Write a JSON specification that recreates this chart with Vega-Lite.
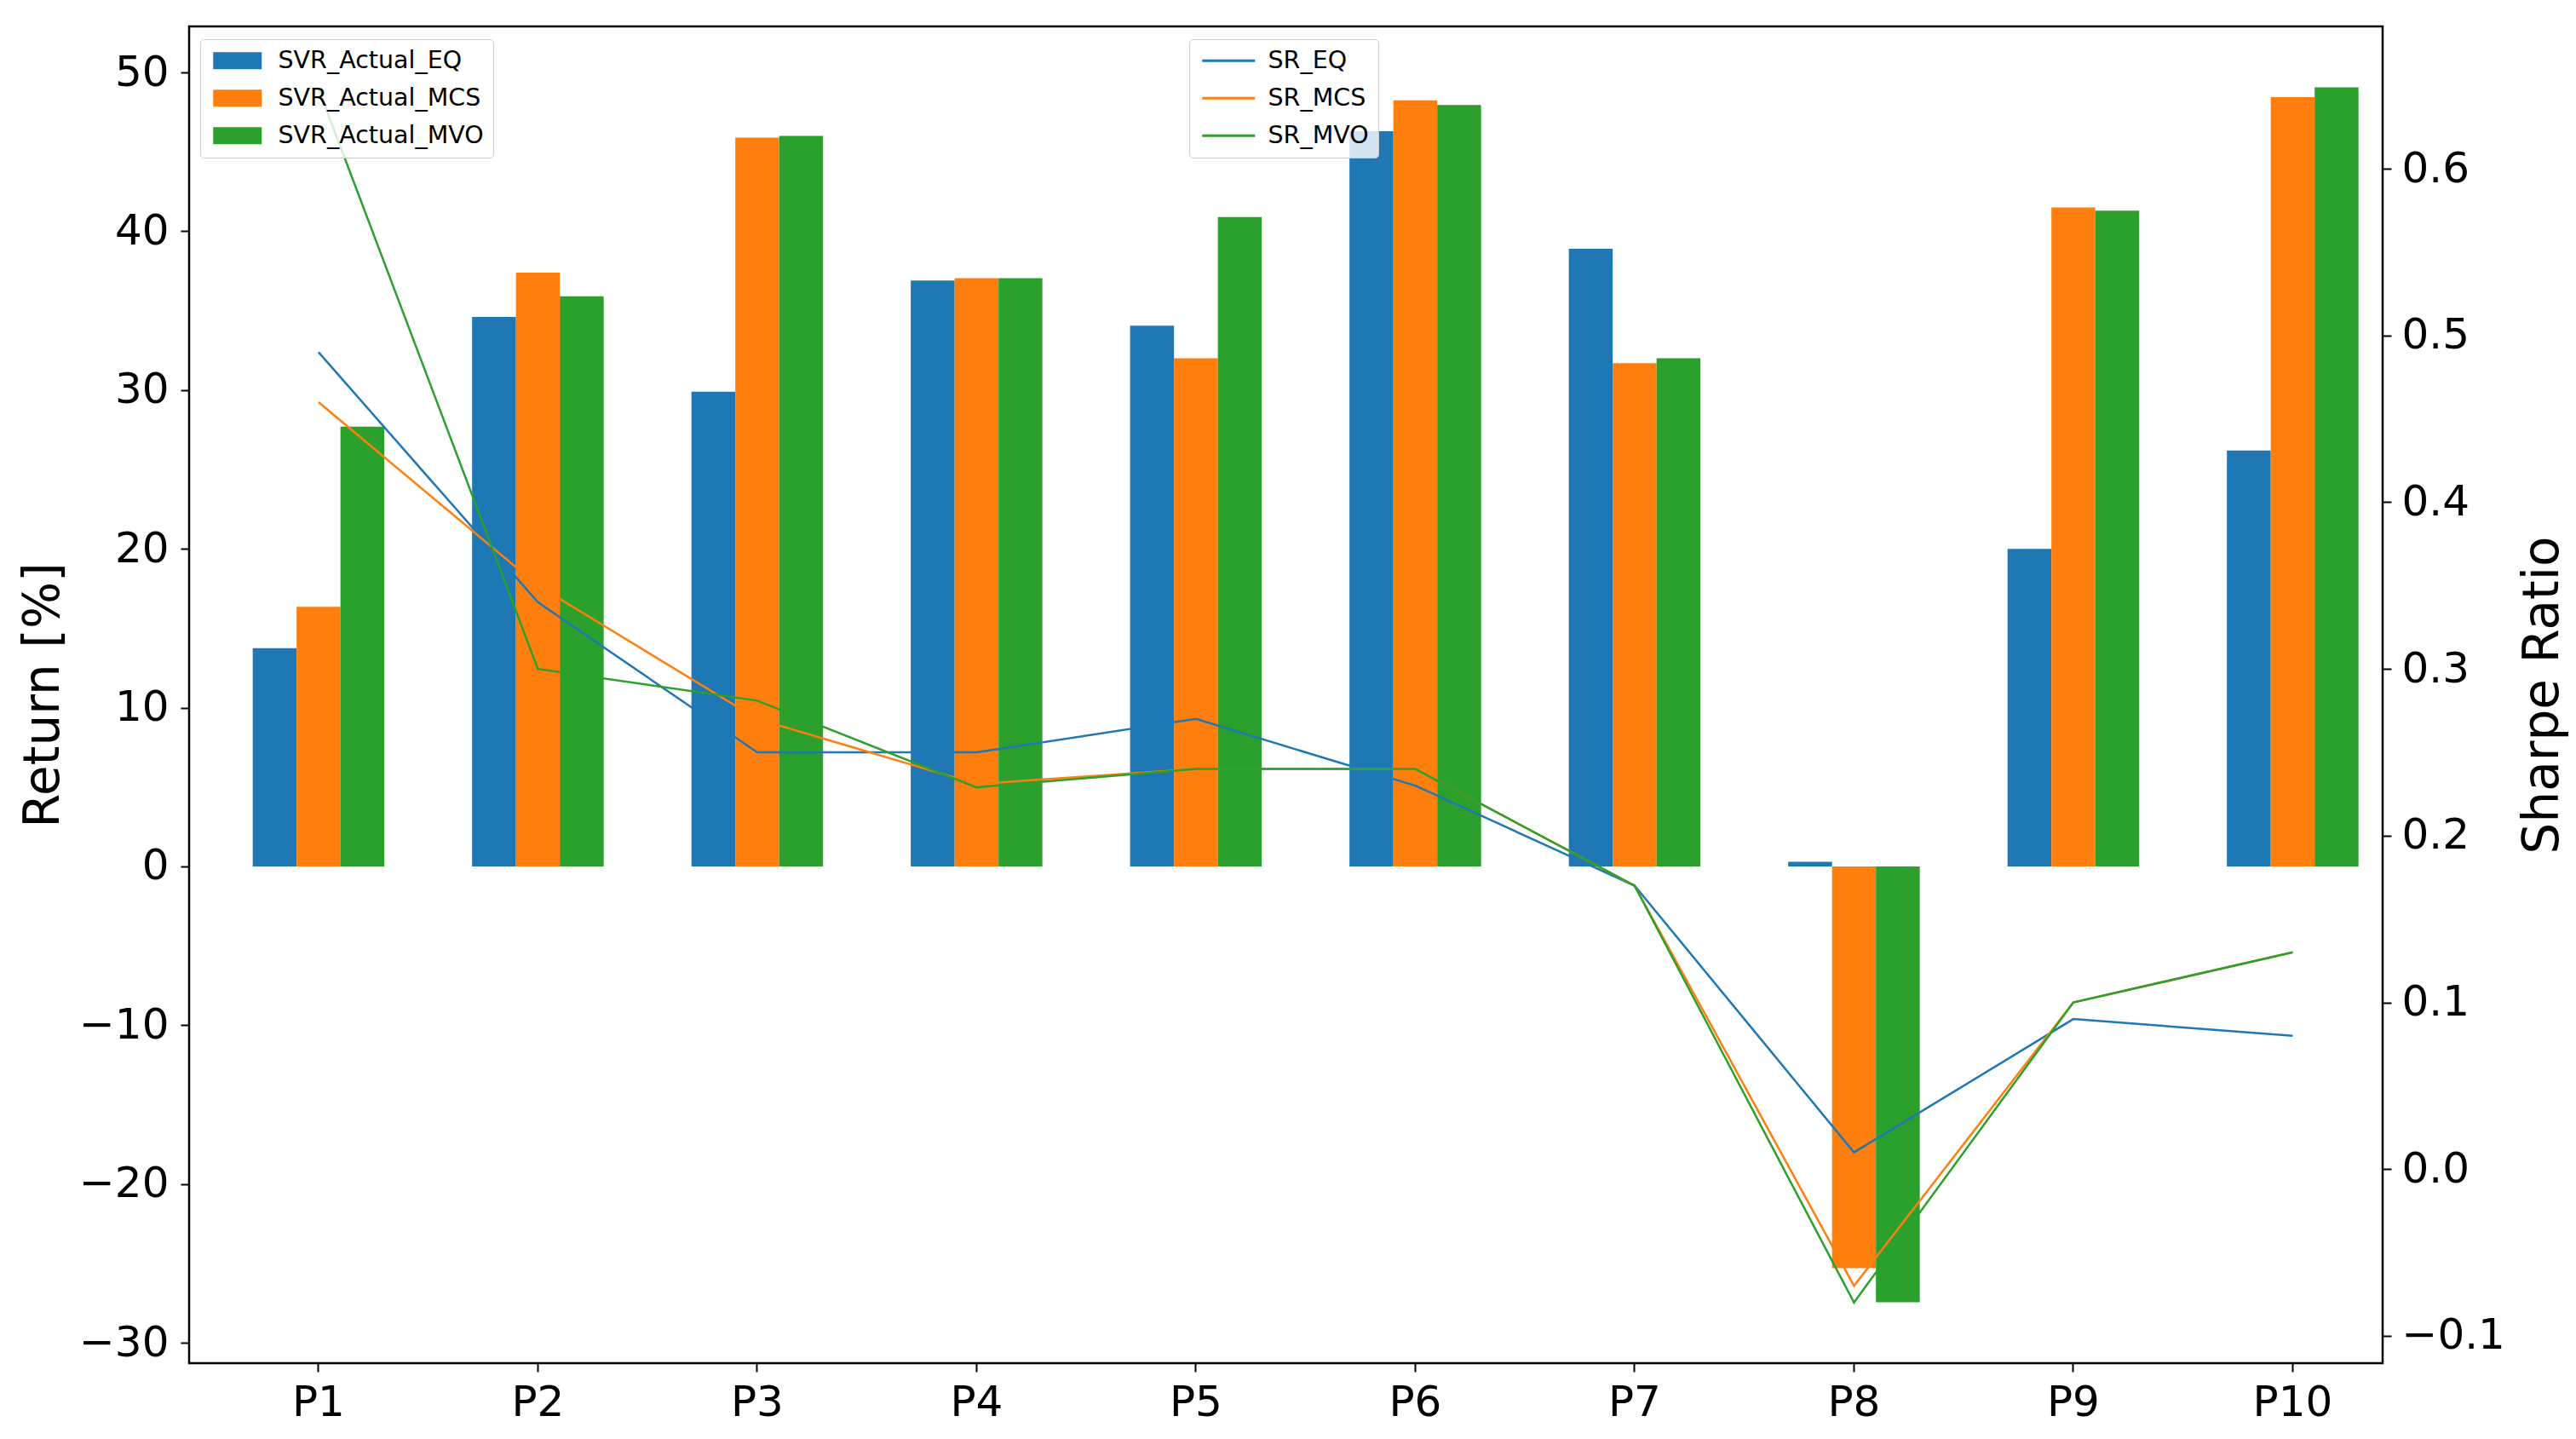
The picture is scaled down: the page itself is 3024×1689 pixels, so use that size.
{
  "$schema": "https://vega.github.io/schema/vega-lite/v6.json",
  "width": 2575,
  "height": 1569,
  "autosize": {"type": "none"},
  "padding": {"left": 222, "top": 31, "right": 227, "bottom": 89},
  "background": "white",
  "config": {
    "font": "DejaVu Sans",
    "view": {"stroke": "black", "strokeWidth": 2.5},
    "axis": {
      "grid": false,
      "domain": false,
      "tickColor": "black",
      "tickWidth": 2,
      "tickSize": 10,
      "labelColor": "black",
      "labelFont": "DejaVu Sans",
      "labelFontSize": 50,
      "titleFont": "DejaVu Sans",
      "titleFontSize": 58,
      "titleFontWeight": "normal",
      "titleColor": "black"
    },
    "legend": {
      "title": null,
      "orient": "none",
      "labelFont": "DejaVu Sans",
      "labelFontSize": 28.5,
      "labelColor": "black",
      "labelLimit": 0,
      "padding": 11,
      "rowPadding": 15,
      "fillColor": "rgba(255,255,255,0.8)",
      "strokeColor": "#cccccc",
      "cornerRadius": 4
    }
  },
  "datasets": {
    "returns": [
      {"period": "P1", "series": "SVR_Actual_EQ", "value": 13.75},
      {"period": "P1", "series": "SVR_Actual_MCS", "value": 16.35},
      {"period": "P1", "series": "SVR_Actual_MVO", "value": 27.7},
      {"period": "P2", "series": "SVR_Actual_EQ", "value": 34.6},
      {"period": "P2", "series": "SVR_Actual_MCS", "value": 37.4},
      {"period": "P2", "series": "SVR_Actual_MVO", "value": 35.9},
      {"period": "P3", "series": "SVR_Actual_EQ", "value": 29.9},
      {"period": "P3", "series": "SVR_Actual_MCS", "value": 45.9},
      {"period": "P3", "series": "SVR_Actual_MVO", "value": 46.0},
      {"period": "P4", "series": "SVR_Actual_EQ", "value": 36.9},
      {"period": "P4", "series": "SVR_Actual_MCS", "value": 37.05},
      {"period": "P4", "series": "SVR_Actual_MVO", "value": 37.05},
      {"period": "P5", "series": "SVR_Actual_EQ", "value": 34.05},
      {"period": "P5", "series": "SVR_Actual_MCS", "value": 32.0},
      {"period": "P5", "series": "SVR_Actual_MVO", "value": 40.9},
      {"period": "P6", "series": "SVR_Actual_EQ", "value": 46.3},
      {"period": "P6", "series": "SVR_Actual_MCS", "value": 48.25},
      {"period": "P6", "series": "SVR_Actual_MVO", "value": 47.95},
      {"period": "P7", "series": "SVR_Actual_EQ", "value": 38.9},
      {"period": "P7", "series": "SVR_Actual_MCS", "value": 31.7},
      {"period": "P7", "series": "SVR_Actual_MVO", "value": 32.0},
      {"period": "P8", "series": "SVR_Actual_EQ", "value": 0.3},
      {"period": "P8", "series": "SVR_Actual_MCS", "value": -25.3},
      {"period": "P8", "series": "SVR_Actual_MVO", "value": -27.45},
      {"period": "P9", "series": "SVR_Actual_EQ", "value": 20.0},
      {"period": "P9", "series": "SVR_Actual_MCS", "value": 41.5},
      {"period": "P9", "series": "SVR_Actual_MVO", "value": 41.3},
      {"period": "P10", "series": "SVR_Actual_EQ", "value": 26.2},
      {"period": "P10", "series": "SVR_Actual_MCS", "value": 48.45},
      {"period": "P10", "series": "SVR_Actual_MVO", "value": 49.07}
    ],
    "sharpe": [
      {"period": "P1", "series": "SR_EQ", "value": 0.49},
      {"period": "P2", "series": "SR_EQ", "value": 0.34},
      {"period": "P3", "series": "SR_EQ", "value": 0.25},
      {"period": "P4", "series": "SR_EQ", "value": 0.25},
      {"period": "P5", "series": "SR_EQ", "value": 0.27},
      {"period": "P6", "series": "SR_EQ", "value": 0.23},
      {"period": "P7", "series": "SR_EQ", "value": 0.17},
      {"period": "P8", "series": "SR_EQ", "value": 0.01},
      {"period": "P9", "series": "SR_EQ", "value": 0.09},
      {"period": "P10", "series": "SR_EQ", "value": 0.08},
      {"period": "P1", "series": "SR_MCS", "value": 0.46},
      {"period": "P2", "series": "SR_MCS", "value": 0.35},
      {"period": "P3", "series": "SR_MCS", "value": 0.27},
      {"period": "P4", "series": "SR_MCS", "value": 0.231},
      {"period": "P5", "series": "SR_MCS", "value": 0.24},
      {"period": "P6", "series": "SR_MCS", "value": 0.24},
      {"period": "P7", "series": "SR_MCS", "value": 0.17},
      {"period": "P8", "series": "SR_MCS", "value": -0.07},
      {"period": "P9", "series": "SR_MCS", "value": 0.1},
      {"period": "P10", "series": "SR_MCS", "value": 0.13},
      {"period": "P1", "series": "SR_MVO", "value": 0.648},
      {"period": "P2", "series": "SR_MVO", "value": 0.3},
      {"period": "P3", "series": "SR_MVO", "value": 0.281},
      {"period": "P4", "series": "SR_MVO", "value": 0.229},
      {"period": "P5", "series": "SR_MVO", "value": 0.24},
      {"period": "P6", "series": "SR_MVO", "value": 0.24},
      {"period": "P7", "series": "SR_MVO", "value": 0.17},
      {"period": "P8", "series": "SR_MVO", "value": -0.08},
      {"period": "P9", "series": "SR_MVO", "value": 0.1},
      {"period": "P10", "series": "SR_MVO", "value": 0.13}
    ]
  },
  "layer": [
    {
      "data": {"name": "returns"},
      "mark": {"type": "bar"},
      "encoding": {
        "x": {
          "field": "period",
          "type": "nominal",
          "sort": null,
          "scale": {
            "domain": ["P1", "P2", "P3", "P4", "P5", "P6", "P7", "P8", "P9", "P10"],
            "paddingInner": 0.4,
            "paddingOuter": 0.2,
            "align": 0.725
          },
          "axis": {"title": null, "labelAngle": 0, "labelPadding": 11}
        },
        "xOffset": {
          "field": "series",
          "type": "nominal",
          "sort": null,
          "scale": {
            "domain": ["SVR_Actual_EQ", "SVR_Actual_MCS", "SVR_Actual_MVO"],
            "paddingInner": 0,
            "paddingOuter": 0
          }
        },
        "y": {
          "field": "value",
          "type": "quantitative",
          "scale": {"domain": [-31.28, 52.9], "nice": false, "zero": false},
          "axis": {
            "title": "Return [%]",
            "values": [-30, -20, -10, 0, 10, 20, 30, 40, 50],
            "labelPadding": 14,
            "titlePadding": 12
          }
        },
        "color": {
          "field": "series",
          "type": "nominal",
          "scale": {
            "domain": ["SVR_Actual_EQ", "SVR_Actual_MCS", "SVR_Actual_MVO"],
            "range": ["#1f77b4", "#ff7f0e", "#2ca02c"]
          },
          "legend": {
            "legendX": 13,
            "legendY": 15,
            "symbolType": "M-1,-1H4.7V1H-1Z",
            "symbolSize": 400,
            "symbolStrokeWidth": 0,
            "labelOffset": 52
          }
        }
      }
    },
    {
      "data": {"name": "sharpe"},
      "mark": {"type": "line", "strokeWidth": 2.5},
      "encoding": {
        "x": {"field": "period", "type": "nominal", "sort": null},
        "y": {
          "field": "value",
          "type": "quantitative",
          "scale": {"domain": [-0.1164, 0.6854], "nice": false, "zero": false},
          "axis": {
            "orient": "right",
            "title": "Sharpe Ratio",
            "values": [-0.1, 0, 0.1, 0.2, 0.3, 0.4, 0.5, 0.6],
            "format": ".1f",
            "labelPadding": 12,
            "titlePadding": 16,
            "titleAngle": -90,
            "titleBaseline": "top"
          }
        },
        "color": {
          "field": "series",
          "type": "nominal",
          "scale": {
            "domain": ["SR_EQ", "SR_MCS", "SR_MVO"],
            "range": ["#1f77b4", "#ff7f0e", "#2ca02c"]
          },
          "legend": {
            "legendX": 1174,
            "legendY": 15,
            "symbolType": "M-1,0H5.2",
            "symbolSize": 400,
            "symbolStrokeWidth": 3,
            "labelOffset": 53
          }
        },
        "order": {"value": null}
      }
    }
  ],
  "resolve": {
    "scale": {"y": "independent", "color": "independent"},
    "legend": {"color": "independent"}
  }
}
